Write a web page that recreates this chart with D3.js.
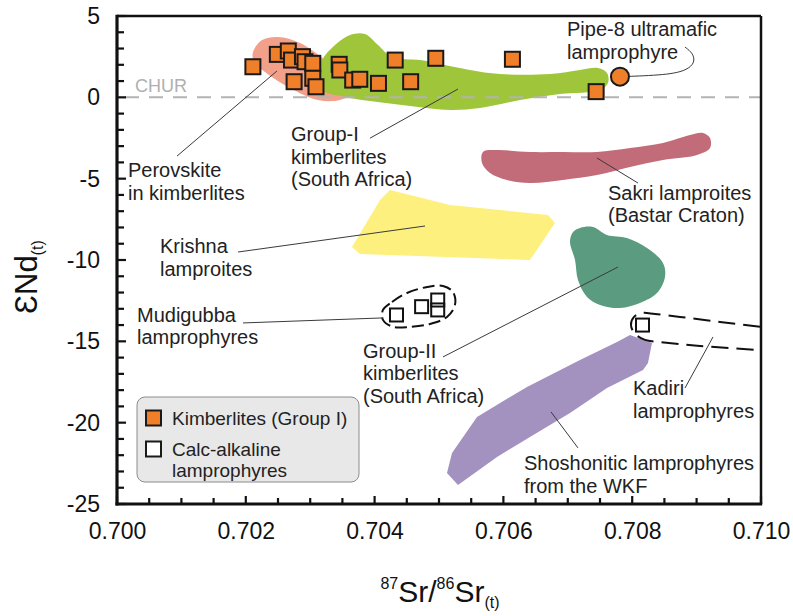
<!DOCTYPE html>
<html><head><meta charset="utf-8">
<script src="https://cdn.jsdelivr.net/npm/d3@7"></script>
<style>
body{margin:0;background:#fff;}
svg{display:block;font-family:"Liberation Sans",Arial,Helvetica,sans-serif;}
</style>
</head><body>
<svg id="c" width="793" height="616"></svg>
<script>
// ---------------- DATA ----------------
const xTickValues = [0.700, 0.702, 0.704, 0.706, 0.708, 0.710];
const xTickLabels = ["0.700", "0.702", "0.704", "0.706", "0.708", "0.710"];
const yTickValues = [5, 0, -5, -10, -15, -20, -25];
const yTickLabels = ["5", "0", "-5", "-10", "-15", "-20", "-25"];

// Kimberlites (Group I) : [87Sr/86Sr(t), eNd(t)]
const kimberlites = [
  [0.70211, 1.88], [0.70249, 2.64], [0.70266, 2.85], [0.70271, 2.29],
  [0.70288, 2.50], [0.70292, 2.19], [0.70304, 2.09], [0.70304, 1.17],
  [0.70309, 0.65], [0.70275, 0.96], [0.70345, 2.03], [0.70346, 1.68],
  [0.70366, 1.06], [0.70377, 1.11], [0.70406, 0.86], [0.70432, 2.29],
  [0.70456, 0.96], [0.70495, 2.40], [0.70614, 2.34], [0.70744, 0.35]
];
const pipe8 = [[0.70781, 1.27]];
// Calc-alkaline lamprophyres
const mudigubba = [[0.70434, -13.38], [0.70473, -12.87], [0.70498, -12.46], [0.70498, -13.07]];
const kadiri = [[0.70816, -14.0]];

// Fields
const perovskiteField = [
  [0.702112, 2.78], [0.702252, 3.52], [0.702500, 3.71], [0.702842, 3.34],
  [0.703230, 2.29], [0.703540, 1.06], [0.703618, 0.20], [0.703463, -0.17],
  [0.703121, -0.17], [0.702686, 0.57], [0.702298, 1.56], [0.702127, 2.17]
];
const groupIField = [
  [0.703183, 2.29], [0.703385, 3.21], [0.703618, 3.83], [0.703851, 3.89],
  [0.704053, 3.21], [0.704270, 2.48], [0.704705, 2.29], [0.705016, 2.05],
  [0.705481, 1.68], [0.705947, 1.43], [0.706724, 1.43], [0.707189, 1.68],
  [0.707469, 1.80], [0.707609, 1.49], [0.707624, 0.88], [0.707500, 0.45],
  [0.706879, 0.20], [0.706258, -0.17], [0.705637, -0.66], [0.705171, -0.78],
  [0.704550, -0.53], [0.703929, -0.23], [0.703463, 0.08], [0.703183, 0.45],
  [0.703121, 1.37]
];
const sakriField = [
  [0.705683, -3.36], [0.705901, -3.24], [0.706413, -3.36], [0.706925, -3.36],
  [0.707453, -3.36], [0.707966, -3.12], [0.708478, -2.81], [0.708898, -2.32],
  [0.709099, -2.19], [0.709208, -2.50], [0.709208, -3.12], [0.709006, -3.55],
  [0.708478, -3.85], [0.707966, -4.28], [0.707453, -4.78], [0.706925, -5.08],
  [0.706413, -5.27], [0.706056, -5.08], [0.705792, -4.65], [0.705668, -4.04]
];
const krishnaField = [
  [0.704084, -6.31], [0.704239, -5.69], [0.705171, -6.62], [0.706693, -7.23],
  [0.706801, -7.73], [0.706413, -10.00], [0.703773, -9.63], [0.703649, -9.20]
];
const groupIIField = [
  [0.707189, -8.03], [0.707391, -7.97], [0.707609, -8.46], [0.707919, -8.65],
  [0.708230, -9.26], [0.708478, -10.18], [0.708509, -11.04], [0.708385, -12.03],
  [0.708121, -12.64], [0.707811, -12.95], [0.707500, -12.76], [0.707298, -12.27],
  [0.707158, -11.23], [0.707112, -10.00], [0.707034, -8.89], [0.707081, -8.28]
];
const shoshoniticField = [
  [0.707966, -14.61], [0.708307, -15.10], [0.708245, -16.33], [0.708168, -16.76],
  [0.707609, -17.87], [0.707034, -19.40], [0.706413, -20.88], [0.705901, -22.11],
  [0.705295, -23.83], [0.705124, -23.09], [0.705202, -21.86], [0.705590, -19.65],
  [0.706366, -17.80], [0.707189, -16.14], [0.707764, -15.04]
];
const mudigubbaOutline = [
  [0.704130, -13.07], [0.704270, -12.58], [0.704503, -12.03], [0.704814, -11.66],
  [0.705062, -11.60], [0.705217, -11.97], [0.705248, -12.76], [0.705124, -13.50],
  [0.704860, -13.93], [0.704550, -14.11], [0.704286, -14.11], [0.704130, -13.68]
];
const kadiriOutline = [
  [0.709984, -14.11], [0.709363, -13.81], [0.708742, -13.50], [0.708354, -13.32],
  [0.708152, -13.26], [0.708028, -13.50], [0.707981, -13.99], [0.708043, -14.54],
  [0.708199, -14.91], [0.708432, -15.04], [0.709053, -15.28], [0.709953, -15.53]
];

// Annotations: label lines, anchor (left, first baseline) in data units, leader line
const annotations = [
  {lines: ["Pipe-8 ultramafic", "lamprophyre"], at: [0.706988, 3.77], leader: null},
  {lines: ["Perovskite", "in kimberlites"], at: [0.700171, -4.90], leader: [[0.700932, -3.61], [0.702484, 1.62]]},
  {lines: ["Group-I", "kimberlites", "(South Africa)"], at: [0.702702, -2.69], leader: [[0.703929, -2.51], [0.705295, 0.51]]},
  {lines: ["Sakri lamproites", "(Bastar Craton)"], at: [0.707624, -6.31], leader: [[0.707453, -3.73], [0.708090, -5.27]]},
  {lines: ["Krishna", "lamproites"], at: [0.700668, -9.57], leader: [[0.701879, -9.51], [0.704783, -7.91]]},
  {lines: ["Mudigubba", "lamprophyres"], at: [0.700311, -13.81], leader: [[0.701957, -13.87], [0.704130, -13.56]]},
  {lines: ["Group-II", "kimberlites", "(South Africa)"], at: [0.703820, -16.02], leader: [[0.705062, -15.96], [0.707780, -10.43]]},
  {lines: ["Kadiri", "lamprophyres"], at: [0.708012, -18.30], leader: [[0.708820, -17.87], [0.709255, -14.73]]},
  {lines: ["Shoshonitic lamprophyres", "from the WKF"], at: [0.706320, -22.91], leader: [[0.707158, -21.55], [0.706739, -19.34]]}
];
const pipe8Leader = [[0.70781, 1.27], [0.708540, 1.37], [0.708851, 1.66], [0.708976, 2.15], [0.708945, 2.71], [0.708820, 3.09]];
const legendItems = [
  {lines: ["Kimberlites (Group I)"], type: "kimb"},
  {lines: ["Calc-alkaline", "lamprophyres"], type: "calc"}
];

// ---------------- CHART ----------------
const svg = d3.select("#c");
const x = d3.scaleLinear().domain([0.700, 0.710]).range([117, 761]);
const y = d3.scaleLinear().domain([-25, 5]).range([504, 16]);

const smooth = d3.line().x(d => x(d[0])).y(d => y(d[1])).curve(d3.curveCatmullRomClosed.alpha(0.5));
const poly = d3.line().x(d => x(d[0])).y(d => y(d[1])).curve(d3.curveLinearClosed);
const open = d3.line().x(d => x(d[0])).y(d => y(d[1])).curve(d3.curveCatmullRom.alpha(0.5));
const straight = d3.line().x(d => x(d[0])).y(d => y(d[1]));

svg.append("defs").append("clipPath").attr("id", "clip")
  .append("rect").attr("x", 117).attr("y", 16).attr("width", 644).attr("height", 488);

const fields = svg.append("g").attr("clip-path", "url(#clip)");
fields.append("path").attr("d", smooth(perovskiteField)).attr("fill", "#f3a08b");
fields.append("path").attr("d", smooth(groupIField)).attr("fill", "#9fc63b");
fields.append("path").attr("d", smooth(sakriField)).attr("fill", "#c26b79");
fields.append("path").attr("d", poly(krishnaField)).attr("fill", "#fdf07f");
fields.append("path").attr("d", smooth(groupIIField)).attr("fill", "#5b9c80");
fields.append("path").attr("d", poly(shoshoniticField)).attr("fill", "#a392c0");

// CHUR line
fields.append("line").attr("x1", x(0.700)).attr("x2", x(0.710)).attr("y1", y(0)).attr("y2", y(0))
  .attr("stroke", "#b3b3b3").attr("stroke-width", 2).attr("stroke-dasharray", "14,10")
  .attr("stroke-dashoffset", -8);
svg.append("text").attr("x", x(0.70028)).attr("y", y(0) - 5).text("CHUR")
  .attr("font-size", 18).attr("fill", "#b0b0b0");

// dashed outlines
fields.append("path").attr("d", smooth(mudigubbaOutline)).attr("fill", "none")
  .attr("stroke", "#111").attr("stroke-width", 2).attr("stroke-dasharray", "12,5");
fields.append("path").attr("d", open(kadiriOutline)).attr("fill", "none")
  .attr("stroke", "#111").attr("stroke-width", 2).attr("stroke-dasharray", "17,8");

// leader lines
const lead = svg.append("g").attr("stroke", "#3a3a3a").attr("stroke-width", 1).attr("fill", "none");
annotations.filter(a => a.leader).forEach(a => lead.append("path").attr("d", straight(a.leader)));
lead.append("path").attr("d", d3.line().x(d => x(d[0])).y(d => y(d[1])).curve(d3.curveBasis)(pipe8Leader));

// symbols
const sq = 15;
svg.append("g").selectAll("rect").data(kimberlites).join("rect")
  .attr("x", d => x(d[0]) - sq / 2).attr("y", d => y(d[1]) - sq / 2)
  .attr("width", sq).attr("height", sq)
  .attr("fill", "#f07f2a").attr("stroke", "#1a1a1a").attr("stroke-width", 2);
svg.append("g").selectAll("circle").data(pipe8).join("circle")
  .attr("cx", d => x(d[0])).attr("cy", d => y(d[1])).attr("r", 9)
  .attr("fill", "#f07f2a").attr("stroke", "#1a1a1a").attr("stroke-width", 2);
const osq = 13;
svg.append("g").selectAll("rect").data(mudigubba.concat(kadiri)).join("rect")
  .attr("x", d => x(d[0]) - osq / 2).attr("y", d => y(d[1]) - osq / 2)
  .attr("width", osq).attr("height", osq)
  .attr("fill", "none").attr("stroke", "#111").attr("stroke-width", 2);

// annotation labels
const lineH = 22.5;
annotations.forEach(a => {
  const t = svg.append("text").attr("x", x(a.at[0])).attr("y", y(a.at[1]))
    .attr("font-size", 20).attr("fill", "#222");
  a.lines.forEach((l, i) => t.append("tspan").attr("x", x(a.at[0])).attr("dy", i === 0 ? 0 : lineH).text(l));
});

// legend
const lg = svg.append("g");
lg.append("rect").attr("x", 137).attr("y", 397).attr("width", 222).attr("height", 85).attr("rx", 8)
  .attr("fill", "#e8e8e8").attr("stroke", "#8c8c8c").attr("stroke-width", 1);
legendItems.forEach((it, i) => {
  const cy = 418 + i * 31;
  lg.append("rect").attr("x", 146).attr("y", cy - 7.5).attr("width", 15).attr("height", 15)
    .attr("fill", it.type === "kimb" ? "#f07f2a" : "#fff").attr("stroke", "#1a1a1a").attr("stroke-width", 2);
  const t = lg.append("text").attr("x", 172).attr("y", cy + 7).attr("font-size", 19).attr("fill", "#222");
  it.lines.forEach((l, j) => t.append("tspan").attr("x", 172).attr("dy", j === 0 ? 0 : 21).text(l));
});

// ticks
const ax = svg.append("g");
const yMinor = d3.range(-25, 6, 1);
const xMinor = d3.range(0, 21).map(i => 0.700 + i * 0.0005);
ax.selectAll(".ym").data(yMinor).join("line")
  .attr("x1", x(0.700)).attr("x2", d => x(0.700) + (d % 5 === 0 ? 9 : 7))
  .attr("y1", d => y(d)).attr("y2", d => y(d)).attr("stroke", "#111").attr("stroke-width", 2.2);
ax.selectAll(".xm").data(xMinor).join("line")
  .attr("x1", d => x(d)).attr("x2", d => x(d))
  .attr("y1", y(-25)).attr("y2", (d, i) => y(-25) - (i % 4 === 0 ? 8 : 6))
  .attr("stroke", "#111").attr("stroke-width", 2.2);

// axis labels via d3 axes
const yAxis = d3.axisLeft(y).tickValues(yTickValues).tickSize(0).tickPadding(17)
  .tickFormat((d, i) => yTickLabels[i]);
const gy = svg.append("g").attr("transform", `translate(${x(0.700)},0)`).call(yAxis);
gy.select(".domain").remove();
gy.selectAll("text").attr("font-size", 23).attr("font-family", "Liberation Sans, Arial, sans-serif").attr("fill", "#111");

const xAxis = d3.axisBottom(x).tickValues(xTickValues).tickSize(0).tickPadding(19)
  .tickFormat((d, i) => xTickLabels[i]);
const gx = svg.append("g").attr("transform", `translate(0,${y(-25)})`).call(xAxis);
gx.select(".domain").remove();
gx.selectAll("text").attr("font-size", 23).attr("font-family", "Liberation Sans, Arial, sans-serif").attr("fill", "#111");

// frame
svg.append("line").attr("x1", x(0.700)).attr("x2", x(0.710)).attr("y1", y(5)).attr("y2", y(5)).attr("stroke", "#111").attr("stroke-width", 2.5);
svg.append("line").attr("x1", x(0.710)).attr("x2", x(0.710)).attr("y1", y(5)).attr("y2", y(-25)).attr("stroke", "#111").attr("stroke-width", 2.5);
svg.append("line").attr("x1", x(0.700)).attr("x2", x(0.700)).attr("y1", y(5) - 1.2).attr("y2", y(-25) + 1.5).attr("stroke", "#111").attr("stroke-width", 3.2);
svg.append("line").attr("x1", x(0.700) - 1.5).attr("x2", x(0.710) + 1.2).attr("y1", y(-25)).attr("y2", y(-25)).attr("stroke", "#111").attr("stroke-width", 3.2);

// axis titles
const xt = svg.append("text").attr("x", 440).attr("y", 602).attr("text-anchor", "middle").attr("fill", "#111").attr("font-size", 30);
xt.append("tspan").attr("font-size", 16).attr("dy", -13).text("87");
xt.append("tspan").attr("dy", 13).text("Sr/");
xt.append("tspan").attr("font-size", 16).attr("dy", -13).text("86");
xt.append("tspan").attr("dy", 13).text("Sr");
xt.append("tspan").attr("font-size", 16).attr("dy", 6).text("(t)");

const yt = svg.append("text").attr("transform", "translate(37,277) rotate(-90)")
  .attr("text-anchor", "middle").attr("fill", "#111").attr("font-size", 31);
yt.append("tspan").text("\u0190Nd");
yt.append("tspan").attr("font-size", 16).attr("dy", 6).text("(t)");
</script>
</body></html>
